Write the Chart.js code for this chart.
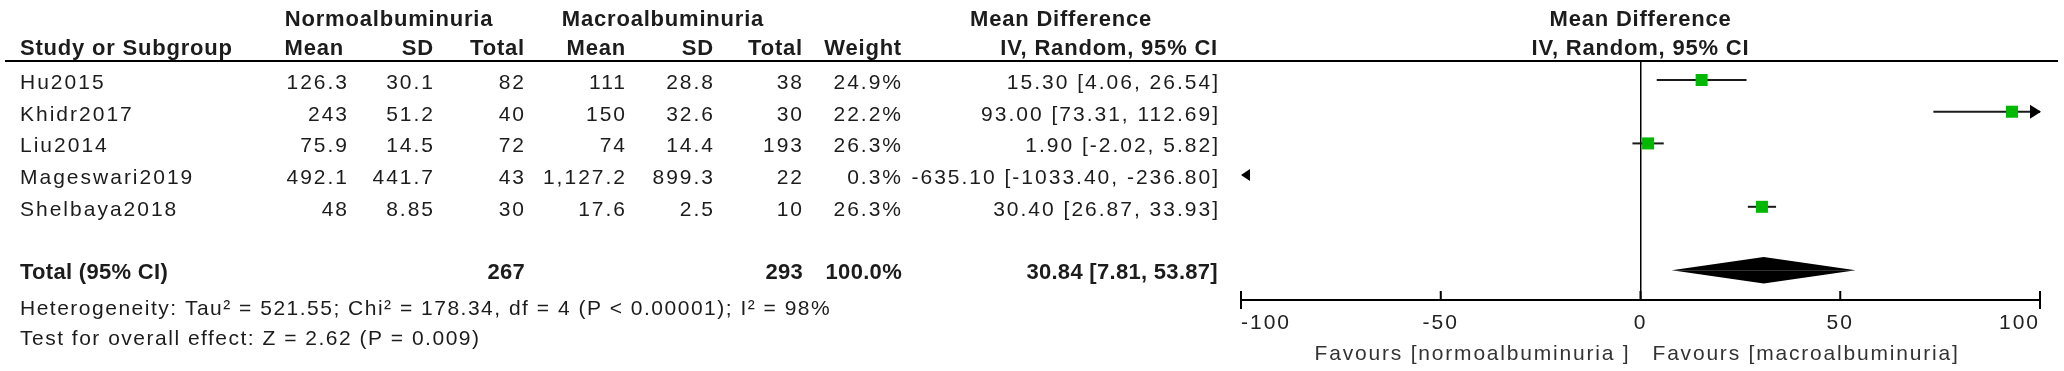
<!DOCTYPE html>
<html>
<head>
<meta charset="utf-8">
<script src="https://cdn.jsdelivr.net/npm/chart.js@4.4.1/dist/chart.umd.min.js"></script>
<style>
  body { margin: 0; background: #fff; }
  #forest { display: block; }
</style>
</head>
<body>
<canvas id="forest" width="2064" height="371"></canvas>
<script>
// study table
const studies = ['Hu2015', 'Khidr2017', 'Liu2014', 'Mageswari2019', 'Shelbaya2018'];
const normoMean = [126.3, 243, 75.9, 492.1, 48];
const normoSD = [30.1, 51.2, 14.5, 441.7, 8.85];
const normoTotal = [82, 40, 72, 43, 30];
const macroMean = [111, 150, 74, 1127.2, 17.6];
const macroSD = [28.8, 32.6, 14.4, 899.3, 2.5];
const macroTotal = [38, 30, 193, 22, 10];
const weights = [24.9, 22.2, 26.3, 0.3, 26.3];
const meanDiff = [15.30, 93.00, 1.90, -635.10, 30.40];
const ciLow = [4.06, 73.31, -2.02, -1033.40, 26.87];
const ciHigh = [26.54, 112.69, 5.82, -236.80, 33.93];

// pooled result
const pooledTotals = [267, 293];
const pooledWeight = 100.0;
const pooledMD = [30.84, 7.81, 53.87]; // estimate, low, high
const heterogeneityText = 'Heterogeneity: Tau\u00B2 = 521.55; Chi\u00B2 = 178.34, df = 4 (P < 0.00001); I\u00B2 = 98%';
const overallText = 'Test for overall effect: Z = 2.62 (P = 0.009)';

// axis
const axisTicks = [-100, -50, 0, 50, 100];
const favoursLabels = ['Favours [normoalbuminuria ]', 'Favours [macroalbuminuria]'];

// layout (pixels / row units)
const TOTAL_ROW = 6;
const DIAMOND_HALF = 0.42;
const FONT = '"Liberation Sans", Arial, sans-serif';
const REG = '21px ' + FONT;
const BOLD = 'bold 22px ' + FONT;

function fmt(v) {
    return v.toLocaleString('en-US', { maximumFractionDigits: 2 });
}
function ciLabel(est, lo, hi) {
    return est.toFixed(2) + ' [' + lo.toFixed(2) + ', ' + hi.toFixed(2) + ']';
}

function text(ctx, s, x, y, align, font, ls, color) {
    ctx.font = font;
    ctx.letterSpacing = ls + 'px';
    ctx.textAlign = align;
    ctx.textBaseline = 'alphabetic';
    ctx.fillStyle = color;
    ctx.fillText(s, x, y);
}

// table on the left, headers, footer lines and axis decorations
const tablePlugin = {
    id: 'tablePlugin',
    beforeDraw(chart) {
        chart.ctx.letterSpacing = '2px';
    },
    afterDatasetsDraw(chart) {
        chart.ctx.letterSpacing = '0px';
    },
    afterDraw(chart) {
        const ctx = chart.ctx;
        const xs = chart.scales.x;
        const ys = chart.scales.y;
        const area = chart.chartArea;
        const dark = '#1c1c1c';
        ctx.save();

        // header rows
        text(ctx, 'Normoalbuminuria', 389, 26, 'center', BOLD, 0.8, dark);
        text(ctx, 'Macroalbuminuria', 663, 26, 'center', BOLD, 0.8, dark);
        text(ctx, 'Mean Difference', 1061, 26, 'center', BOLD, 0.8, dark);
        text(ctx, 'Mean Difference', xs.getPixelForValue(0), 26, 'center', BOLD, 0.8, dark);
        text(ctx, 'Study or Subgroup', 20, 55, 'left', BOLD, 0.8, dark);
        const hdr = [['Mean', 344], ['SD', 434], ['Total', 525], ['Mean', 626], ['SD', 714], ['Total', 803], ['Weight', 902], ['IV, Random, 95% CI', 1218]];
        hdr.forEach(([s, x]) => text(ctx, s, x, 55, 'right', BOLD, 0.8, dark));
        text(ctx, 'IV, Random, 95% CI', xs.getPixelForValue(0), 55, 'center', BOLD, 0.8, dark);

        // header rule
        ctx.strokeStyle = '#000';
        ctx.lineWidth = 2;
        ctx.beginPath();
        ctx.moveTo(5, area.top);
        ctx.lineTo(2058, area.top);
        ctx.stroke();

        // study rows
        studies.forEach((name, i) => {
            const y = ys.getPixelForValue(i) + 9;
            text(ctx, name, 20, y, 'left', REG, 2, dark);
            const cells = [
                [fmt(normoMean[i]), 349], [fmt(normoSD[i]), 435], [fmt(normoTotal[i]), 526],
                [fmt(macroMean[i]), 627], [fmt(macroSD[i]), 715], [fmt(macroTotal[i]), 804],
                [weights[i].toFixed(1) + '%', 903], [ciLabel(meanDiff[i], ciLow[i], ciHigh[i]), 1220]
            ];
            cells.forEach(([s, x]) => text(ctx, s, x, y, 'right', REG, 2, dark));
        });

        // total row
        const ty = ys.getPixelForValue(TOTAL_ROW) + 9;
        text(ctx, 'Total (95% CI)', 20, ty, 'left', BOLD, 0.3, dark);
        text(ctx, String(pooledTotals[0]), 525, ty, 'right', BOLD, 0.3, dark);
        text(ctx, String(pooledTotals[1]), 803, ty, 'right', BOLD, 0.3, dark);
        text(ctx, pooledWeight.toFixed(1) + '%', 902, ty, 'right', BOLD, 0.3, dark);
        text(ctx, ciLabel(pooledMD[0], pooledMD[1], pooledMD[2]), 1218, ty, 'right', BOLD, 0.3, dark);

        // footer
        text(ctx, heterogeneityText, 20, 315, 'left', REG, 1.5, dark);
        text(ctx, overallText, 20, 345, 'left', REG, 1.5, dark);

        // tick marks pointing up from the axis
        ctx.strokeStyle = '#000';
        ctx.lineWidth = 2;
        xs.ticks.forEach((t, k) => {
            const px = xs.getPixelForValue(t.value);
            const end = (k === 0 || k === xs.ticks.length - 1) ? 9 : 0;
            ctx.beginPath();
            ctx.moveTo(px, area.bottom - 9);
            ctx.lineTo(px, area.bottom + end);
            ctx.stroke();
        });

        // favours labels
        const zx = xs.getPixelForValue(0);
        text(ctx, favoursLabels[0], zx - 10, 360, 'right', REG, 1.8, '#333');
        text(ctx, favoursLabels[1], zx + 12, 360, 'left', REG, 1.8, '#333');

        // arrows for intervals running off the axis
        ctx.fillStyle = '#000';
        studies.forEach((name, i) => {
            const y = ys.getPixelForValue(i);
            if (ciHigh[i] > xs.max) {
                const tip = xs.getPixelForValue(xs.max) + 1;
                ctx.beginPath();
                ctx.moveTo(tip, y);
                ctx.lineTo(tip - 11, y - 7);
                ctx.lineTo(tip - 11, y + 7);
                ctx.closePath();
                ctx.fill();
            }
            if (ciLow[i] < xs.min) {
                const tip = xs.getPixelForValue(xs.min);
                ctx.beginPath();
                ctx.moveTo(tip, y);
                ctx.lineTo(tip + 9, y - 6);
                ctx.lineTo(tip + 9, y + 6);
                ctx.closePath();
                ctx.fill();
            }
        });
        ctx.restore();
    }
};

const ciDatasets = studies.map((name, i) => ({
    type: 'line',
    label: name,
    data: [{ x: ciLow[i], y: i }, { x: ciHigh[i], y: i }],
    borderColor: '#1a1a1a',
    borderWidth: 2,
    pointRadius: 0,
    fill: false,
    order: 2
}));

const squareDataset = {
    type: 'scatter',
    label: 'Mean difference',
    data: studies.map((name, i) => ({ x: meanDiff[i], y: i })),
    pointStyle: 'rect',
    pointRadius: 8.5,
    backgroundColor: '#00b800',
    borderColor: '#00b800',
    borderWidth: 0,
    order: 1
};

const diamondTop = {
    type: 'line',
    label: 'Total upper',
    data: [{ x: pooledMD[1], y: TOTAL_ROW }, { x: pooledMD[0], y: TOTAL_ROW - DIAMOND_HALF }, { x: pooledMD[2], y: TOTAL_ROW }],
    borderWidth: 0,
    pointRadius: 0,
    backgroundColor: '#000',
    fill: { value: TOTAL_ROW },
    tension: 0
};
const diamondBottom = {
    type: 'line',
    label: 'Total lower',
    data: [{ x: pooledMD[1], y: TOTAL_ROW }, { x: pooledMD[0], y: TOTAL_ROW + DIAMOND_HALF }, { x: pooledMD[2], y: TOTAL_ROW }],
    borderWidth: 0,
    pointRadius: 0,
    backgroundColor: '#000',
    fill: { value: TOTAL_ROW },
    tension: 0
};

new Chart(document.getElementById('forest').getContext('2d'), {
    type: 'scatter',
    data: { datasets: [...ciDatasets, squareDataset, diamondTop, diamondBottom] },
    options: {
        responsive: false,
        animation: false,
        devicePixelRatio: 1,
        layout: { padding: { left: 1241, right: 24, top: 61, bottom: 21 } },
        plugins: { legend: { display: false }, tooltip: { enabled: false } },
        scales: {
            x: {
                type: 'linear',
                min: axisTicks[0],
                max: axisTicks[axisTicks.length - 1],
                afterBuildTicks: scale => { scale.ticks = axisTicks.map(v => ({ value: v })); },
                afterFit: scale => { scale.height = 50; },
                border: { display: true, color: '#000', width: 2 },
                grid: {
                    drawTicks: false,
                    color: c => (c.tick && c.tick.value === 0) ? '#000' : 'rgba(0,0,0,0)',
                    lineWidth: 1.5
                },
                ticks: {
                    align: 'inner',
                    padding: 13,
                    color: '#222',
                    font: { family: FONT, size: 21, lineHeight: 1 },
                    callback: v => String(v)
                }
            },
            y: {
                type: 'linear',
                reverse: true,
                min: -0.6,
                max: 6.94,
                display: false
            }
        }
    },
    plugins: [tablePlugin]
});
</script>
</body>
</html>
